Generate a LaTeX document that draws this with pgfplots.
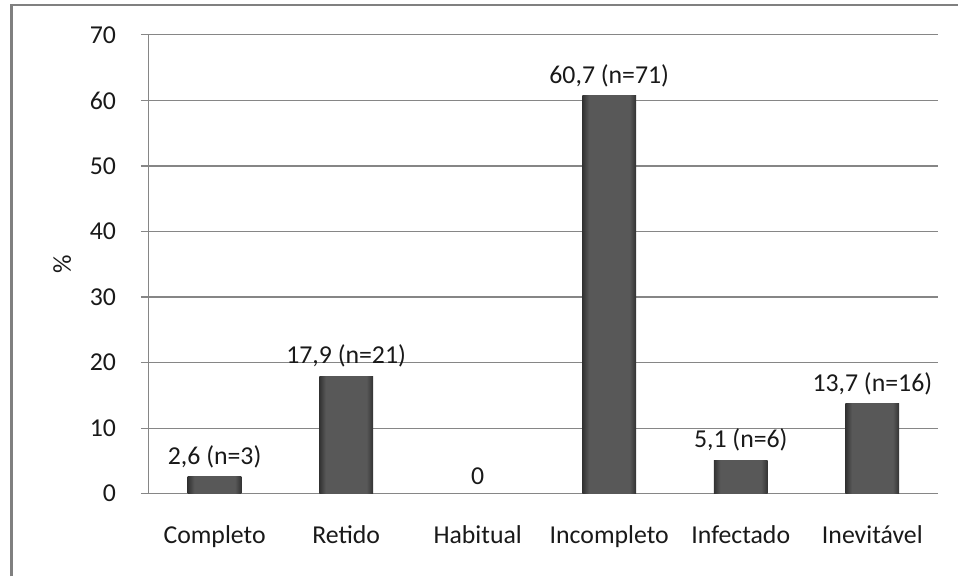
\documentclass[border=0pt]{standalone}
\usepackage{fontspec}
\setmainfont{Carlito}
\usepackage{pgfplots}
\usepackage{pgfplotstable}
\pgfplotsset{compat=1.18}

\definecolor{gridgray}{RGB}{134,134,134}
\definecolor{framegray}{RGB}{128,128,128}
\definecolor{bardark}{RGB}{50,50,50}
\definecolor{barmid}{RGB}{88,88,88}
\definecolor{txt}{RGB}{25,25,25}

% darker only near the bar's sides (TikZ fits 25bp..75bp onto the path)
\pgfdeclarehorizontalshading{barshade}{100bp}{%
  color(0bp)=(bardark); color(25bp)=(bardark); color(31bp)=(barmid);
  color(69bp)=(barmid); color(75bp)=(bardark); color(100bp)=(bardark)}

\begin{document}
\pgfplotstableread[col sep=semicolon]{
x;y;label
0;2.6;2,6 (n=3)
1;17.9;17,9 (n=21)
2;0;0
3;60.7;60,7 (n=71)
4;5.1;5,1 (n=6)
5;13.7;13,7 (n=16)
}\aborto
% one bar per \addplot, so that each bar gets its own shading
\newcommand\onebar[1]{%
  \addplot[draw=none, shading=barshade,
           x filter/.expression={abs(x-#1)<0.1 ? x : nan},
           unbounded coords=discard, filter discard warning=false]
    table[x=x, y=y, meta=label] {\aborto};}
\begin{tikzpicture}
\useasboundingbox (0bp,0bp) rectangle (479bp,-289.5bp);
% outer frame (right and bottom are cut off)
\draw[framegray, line width=1.2bp] (3.5bp,-289.5bp) -- (3.5bp,-2.5bp) -- (479bp,-2.5bp);
\begin{axis}[
  at={(72.5bp,-248bp)}, anchor=south west,
  scale only axis,
  width=396.5bp, height=230.5bp,
  xmin=-0.5, xmax=5.5,
  ymin=0, ymax=70,
  ytick={0,10,...,70},
  xtick={0,...,5},
  xticklabels={Completo,Retido,Habitual,Incompleto,Infectado,Inevitável},
  major x tick style={draw=none},
  axis x line*=bottom,
  axis y line*=left,
  axis line style={gridgray, line width=0.6bp},
  every tick/.style={gridgray, line width=0.6bp},
  tick align=outside,
  major tick length=4bp,
  ymajorgrids,
  grid style={gridgray, line width=0.6bp},
  /pgf/number format/assume math mode=true,
  tick label style={font=\fontsize{13}{15}\selectfont, text=txt},
  yticklabel style={xshift=-9bp},
  xticklabel style={yshift=-8.5bp},
  ylabel={\%},
  ylabel style={at={(axis description cs:-0.1097,0.5)}, anchor=center,
                font=\fontsize{13}{15}\selectfont, text=txt},
  ybar, bar width=27bp, bar shift=0pt,
  nodes near coords,
  point meta=explicit symbolic,
  every node near coord/.append style={font=\fontsize{13}{15}\selectfont, text=txt, yshift=1bp},
]
\onebar{0}
\onebar{1}
\onebar{2}
\onebar{3}
\onebar{4}
\onebar{5}
\end{axis}
\end{tikzpicture}
\end{document}
